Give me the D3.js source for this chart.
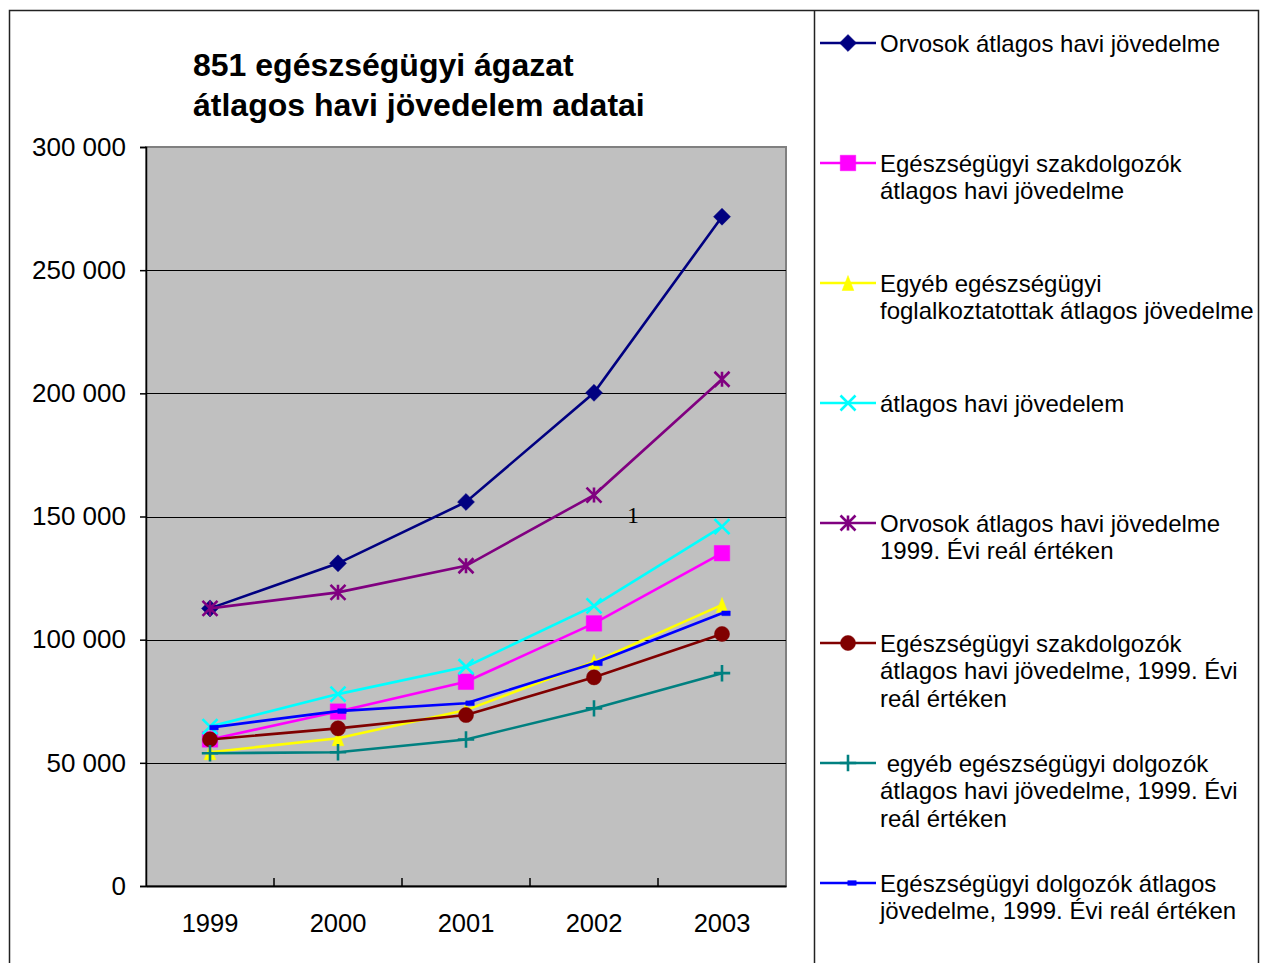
<!DOCTYPE html>
<html>
<head>
<meta charset="utf-8">
<script src="https://cdn.jsdelivr.net/npm/d3@7"></script>
<style>
	html, body { margin: 0; padding: 0; background: #fff; }
	svg { display: block; }
	text { font-family: 'Liberation Sans', Arial, sans-serif; }
</style>
</head>
<body>
<div id="chart"></div>
<script>
(function() {
	'use strict';

	// DATA //

	var years = [ '1999', '2000', '2001', '2002', '2003' ];

	var orvosok = [ 112700, 131000, 155900, 200200, 271700 ],
		szakdolgozok = [ 59500, 70800, 82900, 106600, 135100 ],
		egyeb = [ 54300, 60000, 71400, 91000, 114100 ],
		atlagos = [ 64700, 77900, 89000, 113700, 145900 ],
		orvosokReal = [ 112700, 119200, 130000, 158700, 205700 ],
		szakdolgozokReal = [ 59500, 64000, 69400, 84700, 102300 ],
		egyebReal = [ 53900, 54300, 59500, 72100, 86400 ],
		dolgozokReal = [ 64300, 71000, 74200, 90400, 110700 ];

	var seriesNames = [
		[ 'Orvosok átlagos havi jövedelme' ],
		[ 'Egészségügyi szakdolgozók', 'átlagos havi jövedelme' ],
		[ 'Egyéb egészségügyi', 'foglalkoztatottak átlagos jövedelme' ],
		[ 'átlagos havi jövedelem' ],
		[ 'Orvosok átlagos havi jövedelme', '1999. Évi reál értéken' ],
		[ 'Egészségügyi szakdolgozók', 'átlagos havi jövedelme, 1999. Évi', 'reál értéken' ],
		[ '\u00a0egyéb egészségügyi dolgozók', 'átlagos havi jövedelme, 1999. Évi', 'reál értéken' ],
		[ 'Egészségügyi dolgozók átlagos', 'jövedelme, 1999. Évi reál értéken' ]
	];

	var yTicks = [ 0, 50000, 100000, 150000, 200000, 250000, 300000 ];

	var titleLines = [ '851 egészségügyi ágazat', 'átlagos havi jövedelem adatai' ];


	// SETUP //

	var width = 1262,
		height = 963,
		plot = { left: 146, right: 786, top: 147, bottom: 886 },
		colors = [ '#000080', '#ff00ff', '#ffff00', '#00ffff', '#800080', '#800000', '#008080', '#0000ff' ],
		values = [ orvosok, szakdolgozok, egyeb, atlagos, orvosokReal, szakdolgozokReal, egyebReal, dolgozokReal ],
		svg,
		x,
		y,
		fmt,
		symbols,
		line,
		series,
		legend;

	// Custom marker shapes (Excel style star, X, plus, tall triangle and flat dash):
	var symbolStar = {
		draw: function( ctx, size ) {
			var r = Math.sqrt( size ) / 2;
			ctx.moveTo( -r, -r ); ctx.lineTo( r, r );
			ctx.moveTo( -r, r ); ctx.lineTo( r, -r );
			ctx.moveTo( 0, -r ); ctx.lineTo( 0, r );
		}
	};
	var symbolX = {
		draw: function( ctx, size ) {
			var r = Math.sqrt( size ) / 2;
			ctx.moveTo( -r, -r ); ctx.lineTo( r, r );
			ctx.moveTo( -r, r ); ctx.lineTo( r, -r );
		}
	};
	var symbolCross = {
		draw: function( ctx, size ) {
			var r = Math.sqrt( size ) / 2;
			ctx.moveTo( -r, 0 ); ctx.lineTo( r, 0 );
			ctx.moveTo( 0, -r ); ctx.lineTo( 0, r );
		}
	};
	var symbolTri = {
		draw: function( ctx, size ) {
			var r = Math.sqrt( size ) / 2;
			ctx.moveTo( 0, -r ); ctx.lineTo( r * 0.78, r ); ctx.lineTo( -r * 0.78, r ); ctx.closePath();
		}
	};
	var symbolDash = {
		draw: function( ctx, size ) {
			var w = Math.sqrt( size ) / 2, h = w * 0.55;
			ctx.moveTo( -w + 4, -h ); ctx.lineTo( w + 4, -h ); ctx.lineTo( w + 4, h ); ctx.lineTo( -w + 4, h ); ctx.closePath();
		}
	};

	// [ type, size, filled ]
	symbols = [
		[ d3.symbolDiamond2, 184, true ],
		[ d3.symbolSquare, 240, true ],
		[ symbolTri, 225, true ],
		[ symbolX, 225, false ],
		[ symbolStar, 225, false ],
		[ d3.symbolCircle, 180, true ],
		[ symbolCross, 270, false ],
		[ symbolDash, 72, true ]
	];

	series = values.map( function( v, i ) {
		return {
			id: i,
			color: colors[ i ],
			points: v.map( function( d, j ) { return { year: years[ j ], value: d }; } )
		};
	});

	fmt = d3.formatLocale({ decimal: ',', thousands: ' ', grouping: [ 3 ], currency: [ '', '' ] }).format( ',' );

	x = d3.scaleBand()
		.domain( years )
		.range( [ plot.left, plot.right ] );

	y = d3.scaleLinear()
		.domain( [ 0, 300000 ] )
		.range( [ plot.bottom, plot.top ] );

	svg = d3.select( '#chart' ).append( 'svg' )
		.attr( 'width', width )
		.attr( 'height', height );

	// Outer frame and legend box:
	svg.append( 'path' )
		.attr( 'd', 'M9.5,' + height + 'V10.5H1258.5V' + height + 'M814.5,10.5V' + height )
		.attr( 'fill', 'none' )
		.attr( 'stroke', '#222' )
		.attr( 'stroke-width', 1.5 );

	// Title:
	svg.append( 'text' )
		.attr( 'x', 193 )
		.attr( 'y', 76 )
		.attr( 'font-size', 32 )
		.attr( 'font-weight', 'bold' )
		.selectAll( 'tspan' )
		.data( titleLines )
	  .enter().append( 'tspan' )
		.attr( 'x', 193 )
		.attr( 'dy', function( d, i ) { return i ? 40 : 0; } )
		.text( function( d ) { return d; } );

	// Plot background:
	svg.append( 'rect' )
		.attr( 'x', plot.left )
		.attr( 'y', plot.top )
		.attr( 'width', plot.right - plot.left )
		.attr( 'height', plot.bottom - plot.top )
		.attr( 'fill', '#c0c0c0' )
		.attr( 'stroke', '#808080' )
		.attr( 'stroke-width', 2 );

	// Gridlines:
	svg.append( 'g' )
		.selectAll( 'line' )
		.data( yTicks.slice( 1, -1 ) )
	  .enter().append( 'line' )
		.attr( 'x1', plot.left )
		.attr( 'x2', plot.right )
		.attr( 'y1', function( d ) { return Math.round( y( d ) ) + 0.5; } )
		.attr( 'y2', function( d ) { return Math.round( y( d ) ) + 0.5; } )
		.attr( 'stroke', '#000' )
		.attr( 'stroke-width', 1 );

	// Y axis:
	var yAxis = svg.append( 'g' )
		.attr( 'transform', 'translate(' + plot.left + ',0)' )
		.call( d3.axisLeft( y ).tickValues( yTicks ).tickFormat( fmt ).tickSize( 6 ).tickPadding( 14 ) );
	yAxis.selectAll( 'text' )
		.attr( 'font-size', 26 )
		.attr( 'font-family', "'Liberation Sans', Arial, sans-serif" )
		.attr( 'fill', '#000' );
	yAxis.selectAll( 'line, path' ).attr( 'stroke', '#000' ).attr( 'stroke-width', 1.5 );

	// X axis:
	var xAxis = svg.append( 'g' )
		.attr( 'transform', 'translate(0,' + plot.bottom + ')' )
		.call( d3.axisBottom( x ).tickSize( 0 ).tickPadding( 28 ) );
	xAxis.selectAll( 'text' )
		.attr( 'font-size', 25.5 )
		.attr( 'font-family', "'Liberation Sans', Arial, sans-serif" )
		.attr( 'fill', '#000' );
	xAxis.select( '.domain' ).attr( 'stroke', '#000' ).attr( 'stroke-width', 2 );

	// Category separator ticks (pointing inward):
	xAxis.selectAll( 'line.sep' )
		.data( years.slice( 1 ) )
	  .enter().append( 'line' )
		.attr( 'class', 'sep' )
		.attr( 'x1', function( d ) { return x( d ); } )
		.attr( 'x2', function( d ) { return x( d ); } )
		.attr( 'y1', 0 )
		.attr( 'y2', -8 )
		.attr( 'stroke', '#000' )
		.attr( 'stroke-width', 1.5 );

	// Lines:
	line = d3.line()
		.x( function( d ) { return x( d.year ) + x.bandwidth() / 2; } )
		.y( function( d ) { return y( d.value ); } );

	var groups = svg.append( 'g' )
		.selectAll( 'g.series' )
		.data( series )
	  .enter().append( 'g' )
		.attr( 'class', 'series' );

	groups.append( 'path' )
		.attr( 'd', function( d ) { return line( d.points ); } )
		.attr( 'fill', 'none' )
		.attr( 'stroke', function( d ) { return d.color; } )
		.attr( 'stroke-width', 2.6 );

	function marker( sel, d ) {
		var s = symbols[ d.id ];
		sel.attr( 'd', d3.symbol().type( s[ 0 ] ).size( s[ 1 ] ) )
			.attr( 'fill', s[ 2 ] ? d.color : 'none' )
			.attr( 'stroke', d.color )
			.attr( 'stroke-width', s[ 2 ] ? 0.5 : 2.6 );
	}

	groups.each( function( d ) {
		d3.select( this ).selectAll( 'path.mark' )
			.data( d.points )
		  .enter().append( 'path' )
			.attr( 'class', 'mark' )
			.attr( 'transform', function( p ) {
				return 'translate(' + ( x( p.year ) + x.bandwidth() / 2 ) + ',' + y( p.value ) + ')';
			})
			.call( marker, d );
	});

	// Stray label:
	svg.append( 'text' )
		.attr( 'x', 633 )
		.attr( 'y', 523 )
		.attr( 'text-anchor', 'middle' )
		.attr( 'font-size', 24 )
		.style( 'font-family', "'Liberation Serif', 'Times New Roman', serif" )
		.text( '1' );

	// Legend:
	legend = svg.append( 'g' )
		.selectAll( 'g.entry' )
		.data( series )
	  .enter().append( 'g' )
		.attr( 'class', 'entry' )
		.attr( 'transform', function( d, i ) { return 'translate(0,' + ( 43 + 120 * i ) + ')'; } );

	legend.append( 'line' )
		.attr( 'x1', 820 )
		.attr( 'x2', 876 )
		.attr( 'stroke', function( d ) { return d.color; } )
		.attr( 'stroke-width', 2.6 );

	legend.append( 'path' )
		.attr( 'transform', 'translate(848,0)' )
		.each( function( d ) { d3.select( this ).call( marker, d ); } );

	legend.append( 'text' )
		.attr( 'font-size', 24 )
		.attr( 'y', 8.6 )
		.selectAll( 'tspan' )
		.data( function( d ) { return seriesNames[ d.id ]; } )
	  .enter().append( 'tspan' )
		.attr( 'x', 880 )
		.attr( 'dy', function( d, i ) { return i ? 27.6 : 0; } )
		.text( function( d ) { return d; } );

})();
</script>
</body>
</html>
